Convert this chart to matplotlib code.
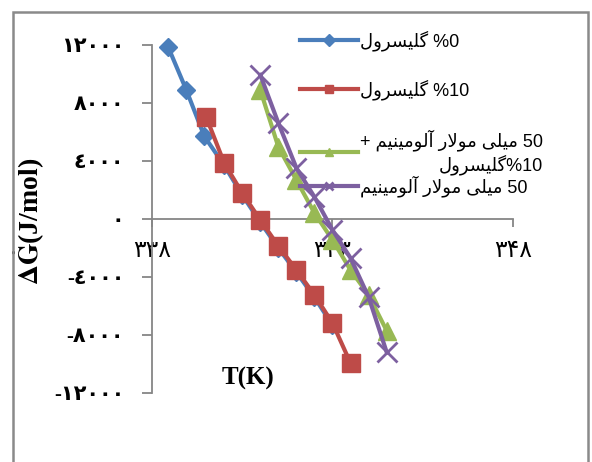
import re
import matplotlib.pyplot as plt
from matplotlib.patches import Rectangle
from matplotlib.ticker import FuncFormatter, FixedLocator

plt.rcParams["mathtext.fontset"] = "stix"

# دادهها (T بر حسب K، ΔG بر حسب J/mol) - خوانده شده از نمودار
T_GLY0 = [338.45, 338.95, 339.45, 340.0, 340.5, 341.0, 341.5, 342.0, 342.5, 343.0]
G_GLY0 = [11850, 8900, 5700, 3700, 1650, -220, -2000, -3680, -5400, -7330]

T_GLY10 = [339.5, 340.0, 340.5, 341.0, 341.5, 342.0, 342.5, 343.0, 343.5]
G_GLY10 = [7040, 3860, 1790, -70, -1860, -3520, -5240, -7180, -9940]

T_AL_GLY10 = [341.0, 341.5, 342.0, 342.5, 343.0, 343.5, 344.0, 344.5]
G_AL_GLY10 = [8900, 4970, 2690, 414, -1450, -3520, -5240, -7700]

T_AL = [341.0, 341.5, 342.0, 342.5, 343.0, 343.5, 344.0, 344.5]
G_AL = [9940, 6620, 3520, 1520, -760, -2690, -5380, -9180]

LABELS = [
    "%0 گلیسرول",
    "%10 گلیسرول",
    "50 میلی مولار آلومینیم +\n%10گلیسرول",
    "50 میلی مولار آلومینیم",
]
X_TICKS = [338, 343, 348]
Y_TICKS = [-12000, -8000, -4000, 0, 4000, 8000, 12000]

# شکل حروف: (isolated, final, initial, medial)
FORMS = {
    "ا": ("\ufe8d", "\ufe8e"),
    "آ": ("\ufe81", "\ufe82"),
    "ر": ("\ufead", "\ufeae"),
    "و": ("\ufeed", "\ufeee"),
    "ل": ("\ufedd", "\ufede", "\ufedf", "\ufee0"),
    "م": ("\ufee1", "\ufee2", "\ufee3", "\ufee4"),
    "ن": ("\ufee5", "\ufee6", "\ufee7", "\ufee8"),
    "س": ("\ufeb1", "\ufeb2", "\ufeb3", "\ufeb4"),
    "ی": ("\ufbfc", "\ufbfd", "\ufbfe", "\ufbff"),
    "گ": ("\ufb92", "\ufb93", "\ufb94", "\ufb95"),
}
LAM_ALEF = {"ا": ("\ufefb", "\ufefc"), "آ": ("\ufef5", "\ufef6")}


def shape_word(word):
    """matplotlib has no arabic shaping, so pick presentation forms by hand."""
    out = []
    i = 0
    while i < len(word):
        ch = word[i]
        prev_joins = i > 0 and len(FORMS.get(word[i - 1], ())) == 4
        if ch == "ل" and i + 1 < len(word) and word[i + 1] in LAM_ALEF:
            out.append(LAM_ALEF[word[i + 1]][1 if prev_joins else 0])
            i += 2
            continue
        forms = FORMS[ch]
        next_joins = len(forms) == 4 and i + 1 < len(word)
        if prev_joins and next_joins:
            out.append(forms[3])
        elif next_joins:
            out.append(forms[2])
        elif prev_joins:
            out.append(forms[1])
        else:
            out.append(forms[0])
        i += 1
    return "".join(reversed(out))


def visual(text):
    lines = []
    for line in text.split("\n"):
        tokens = re.findall(r"[\u0600-\u06FF]+|\s+|[^\s\u0600-\u06FF]+", line)
        tokens = [shape_word(t) if re.match(r"[\u0600-\u06FF]", t) else t for t in tokens]
        lines.append("".join(reversed(tokens)))
    return "\n".join(lines)


AR_DIGITS = str.maketrans("0123456789", "٠١٢٣٤٥٦٧٨٩")
FA_DIGITS = str.maketrans("0123456789", "۰۱۲۳۴۵۶۷۸۹")

AXIS_GRAY = "#868686"
SERIF_AR = ["Liberation Serif", "DejaVu Sans"]
SANS_AR = ["Liberation Sans", "DejaVu Sans"]

fig = plt.figure(figsize=(5.92, 4.62), dpi=100)
ax = fig.add_axes([152 / 592, 1 - 393 / 462, 361 / 592, 348 / 462])

l1, = ax.plot(T_GLY0, G_GLY0, color="#4A7EBB", lw=3, marker="D", ms=9, clip_on=False, zorder=3)
l2, = ax.plot(T_GLY10, G_GLY10, color="#BE4B48", lw=3, marker="s", ms=12.5, clip_on=False, zorder=4)
l3, = ax.plot(T_AL_GLY10, G_AL_GLY10, color="#98B954", lw=3, marker="^", ms=13, clip_on=False, zorder=5)
l4, = ax.plot(T_AL, G_AL, color="#7D60A0", lw=3, marker="x", ms=14, mew=2, clip_on=False, zorder=6)

ax.set_xlim(338, 348)
ax.set_ylim(-12000, 12000)
ax.spines["top"].set_visible(False)
ax.spines["right"].set_visible(False)
ax.spines["bottom"].set_position(("data", 0))
for s in ("left", "bottom"):
    ax.spines[s].set_color(AXIS_GRAY)
    ax.spines[s].set_linewidth(1.3)

ax.xaxis.set_major_locator(FixedLocator(X_TICKS))
ax.yaxis.set_major_locator(FixedLocator(Y_TICKS))
ax.xaxis.set_major_formatter(FuncFormatter(lambda v, p: str(int(v)).translate(FA_DIGITS)))
ax.yaxis.set_major_formatter(FuncFormatter(lambda v, p: str(int(v)).translate(AR_DIGITS)))
ax.tick_params(axis="y", length=7, width=1.3, color=AXIS_GRAY, pad=13)
ax.tick_params(axis="x", length=6, width=1.3, color=AXIS_GRAY, pad=10)
for t in ax.get_yticklabels():
    t.set_family(SERIF_AR)
    t.set_fontweight("bold")
    t.set_fontsize(15)
for t in ax.get_xticklabels():
    t.set_family(SERIF_AR)
    t.set_fontsize(17)

ax.set_xlabel("T(K)", family="Liberation Serif", fontweight="bold", fontsize=18)
ax.xaxis.set_label_coords(0.266, 0.075)
ax.set_ylabel(r"$\mathbf{\Delta}\mathring{\mathbf{G}}$(J/mol)", family="Liberation Serif",
              fontweight="bold", fontsize=20)
ax.yaxis.set_label_coords(-0.29, 0.494)

lines = [l1, l2, l3, l4]
labels = [visual(s) for s in LABELS]
leg_kw = dict(frameon=False, prop={"family": SANS_AR, "size": 13}, handlelength=3.2,
              handletextpad=0.1, borderpad=0, borderaxespad=0, bbox_transform=fig.transFigure,
              loc="upper left")
leg1 = ax.legend(lines[:3], labels[:3], bbox_to_anchor=(300 / 592, 1 - 30 / 462),
                 labelspacing=1.6, **leg_kw)
leg1.get_texts()[2].set_multialignment("right")
ax.add_artist(leg1)
leg2 = ax.legend(lines[3:], labels[3:], bbox_to_anchor=(300 / 592, 1 - 175 / 462), **leg_kw)
for leg in (leg1, leg2):
    for h in leg.legend_handles:
        h.set_markersize(6)

fig.patches.append(Rectangle((13 / 592, -0.05), 575 / 592, 1.05 - 12 / 462, transform=fig.transFigure,
                             fill=False, edgecolor="#8a8a8a", lw=1.8))

fig.savefig("out.png", dpi=100)
